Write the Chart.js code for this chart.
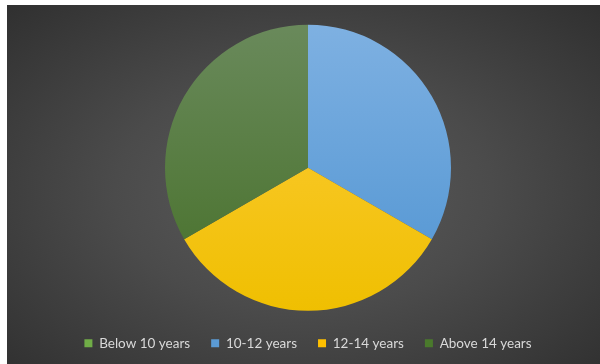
<!DOCTYPE html>
<html>
<head>
<meta charset="utf-8">
<script src="https://cdn.jsdelivr.net/npm/chart.js@4.4.1/dist/chart.umd.min.js"></script>
<style>
    html, body { margin: 0; padding: 0; background: #ffffff; }
    #wrap {
        position: absolute;
        left: 7px;
        top: 5px;
        width: 593px;
        height: 359px;
        background: radial-gradient(ellipse at 50% 52%, #5c5c5c 0%, #4b4b4b 45%, #303030 100%);
    }
</style>
</head>
<body>
<div id="wrap"><canvas id="ageChart" width="593" height="359"></canvas></div>
<script>
// Age groups and their share of the pie
const categories = ['Below 10 years', '10-12 years', '12-14 years', 'Above 14 years'];
const shares = [0, 33.3, 33.3, 33.3];

// Slice colours: top and bottom of the vertical gradient, plus flat legend colour
const topColors = ['#8cc168', '#7fb1e2', '#ffcd40', '#6a8a5c'];
const bottomColors = ['#64a03e', '#4e93d1', '#efbf00', '#456f27'];
const legendColors = ['#70ad47', '#5b9bd5', '#ffc000', '#4a7a2c'];

document.addEventListener('DOMContentLoaded', function() {
    const canvas = document.getElementById('ageChart');

    new Chart(canvas, {
        type: 'pie',
        data: {
            labels: categories,
            datasets: [{
                data: shares,
                backgroundColor: function(context) {
                    const chart = context.chart;
                    const area = chart.chartArea;
                    const i = context.dataIndex;
                    if (!area) {
                        return legendColors[i];
                    }
                    const g = chart.ctx.createLinearGradient(0, area.top, 0, area.bottom);
                    g.addColorStop(0, topColors[i]);
                    g.addColorStop(1, bottomColors[i]);
                    return g;
                },
                borderWidth: 0
            }]
        },
        options: {
            responsive: false,
            animation: false,
            radius: 143,
            layout: {
                padding: { top: 15, bottom: 4, left: 9, right: 0 }
            },
            plugins: {
                tooltip: { enabled: false },
                legend: {
                    position: 'bottom',
                    labels: {
                        color: '#d9d9d9',
                        boxWidth: 8,
                        boxHeight: 8,
                        padding: 21,
                        font: { family: 'Lato, "Open Sans", sans-serif', size: 13.5 },
                        generateLabels: function(chart) {
                            return categories.map((label, i) => ({
                                text: label,
                                fillStyle: legendColors[i],
                                strokeStyle: legendColors[i],
                                lineWidth: 0,
                                fontColor: '#d9d9d9',
                                hidden: false,
                                index: i
                            }));
                        }
                    }
                }
            }
        }
    });
});
</script>
</body>
</html>
